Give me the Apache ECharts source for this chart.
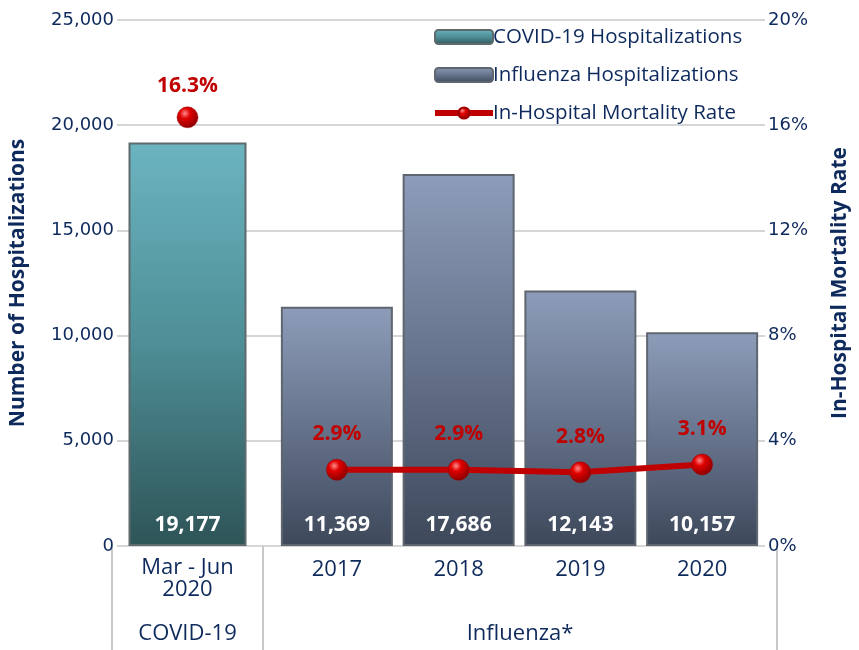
<!DOCTYPE html>
<html><head><meta charset="utf-8">
<script src="https://cdn.jsdelivr.net/npm/echarts@6/dist/echarts.min.js"></script>
<style>html,body{margin:0;padding:0;background:#fff}#c{width:859px;height:650px}</style>
</head><body><div id="c"></div>
<script>
// ---- data ----
const covidCategories = ['Mar - Jun\n2020\n\nCOVID-19'];
const covidHosp = [19177];
const covidRate = [16.3];
const fluCategories = ['2017', '2018', '2019', '2020'];
const fluHosp = [11369, 17686, 12143, 10157];
const fluRate = [2.9, 2.9, 2.8, 3.1];
const groupLabel = ['Influenza*'];
const leftTicks = {min: 0, max: 25000, interval: 5000};
const rightTicks = {min: 0, max: 20, interval: 4};

const NAVY = '#0E2A5C';
const GRID = '#C8C8C8';
const NARROW = '"Liberation Sans Narrow", "Open Sans", sans-serif';
const RED = '#C00000';

const chart = echarts.init(document.getElementById('c'));
const sphere = {
  type: 'radial', x: 0.38, y: 0.32, r: 0.7,
  colorStops: [{offset: 0, color: '#FF8A8A'}, {offset: 0.35, color: '#E00000'}, {offset: 1, color: '#8A0000'}]
};
const covidGrad = {type: 'linear', x: 0, y: 0, x2: 0, y2: 1,
  colorStops: [{offset: 0, color: '#6BB4C0'}, {offset: 0.5, color: '#4E8E96'}, {offset: 1, color: '#2E5457'}]};
const fluGrad = {type: 'linear', x: 0, y: 0, x2: 0, y2: 1,
  colorStops: [{offset: 0, color: '#8D9CB9'}, {offset: 0.5, color: '#66738C'}, {offset: 1, color: '#3D485A'}]};

const tickStyle = {show: true, length: 5, lineStyle: {color: GRID, width: 1.5}};
const hiddenX = (gi, data) => ({type: 'category', gridIndex: gi, data: data, show: false});

chart.setOption({
  animation: false,
  grid: [
    {left: 112, right: 82, top: 20, bottom: 104},
    {left: 112, width: 151, top: 20, bottom: 104},
    {left: 276, right: 96, top: 20, bottom: 104},
    {left: 263, right: 82, top: 20, bottom: 104}
  ],
  legend: {
    orient: 'vertical', left: 432, top: 25, padding: 0, itemWidth: 58, itemHeight: 14, itemGap: 14,
    textStyle: {color: NAVY, fontFamily: '"Open Sans", sans-serif', fontSize: 20.5, lineHeight: 24, padding: [0, 0, 0, -5]},
    lineStyle: {width: 6},
    data: ['COVID-19 Hospitalizations', 'Influenza Hospitalizations', 'In-Hospital Mortality Rate']
  },
  xAxis: [
    hiddenX(0, ['']),
    {type: 'category', gridIndex: 1, data: covidCategories,
      axisLine: {show: false}, axisTick: {show: true, length: 104, lineStyle: {color: GRID, width: 2}},
      axisLabel: {color: NAVY, fontFamily: NARROW, fontSize: 22, lineHeight: 22, margin: 11}},
    {type: 'category', gridIndex: 2, data: fluCategories,
      axisLine: {show: false}, axisTick: {show: false},
      axisLabel: {color: NAVY, fontFamily: NARROW, fontSize: 22, lineHeight: 22, margin: 13}},
    {type: 'category', gridIndex: 3, data: groupLabel,
      axisLine: {show: false}, axisTick: {show: true, length: 104, lineStyle: {color: GRID, width: 2}},
      axisLabel: {color: NAVY, fontFamily: NARROW, fontSize: 22, margin: 77}}
  ],
  yAxis: [
    {type: 'value', gridIndex: 0, position: 'left', ...leftTicks,
      name: 'Number of Hospitalizations', nameLocation: 'middle', nameRotate: 90, nameGap: 93,
      nameTextStyle: {color: NAVY, fontFamily: NARROW, fontWeight: 'bold', fontSize: 21},
      axisLine: {show: false}, axisTick: tickStyle,
      axisLabel: {color: NAVY, fontFamily: '"DejaVu Sans", sans-serif', fontSize: 18, margin: 8,
        formatter: v => v.toLocaleString('en-US')},
      splitLine: {show: true, lineStyle: {color: GRID, width: 1.5}}},
    {type: 'value', gridIndex: 0, position: 'right', ...rightTicks,
      name: 'In-Hospital Mortality Rate', nameLocation: 'middle', nameRotate: 90, nameGap: 70,
      nameTextStyle: {color: NAVY, fontFamily: NARROW, fontWeight: 'bold', fontSize: 21},
      axisLine: {show: false}, axisTick: tickStyle,
      axisLabel: {color: NAVY, fontFamily: '"DejaVu Sans", sans-serif', fontSize: 18, margin: 8, formatter: '{value}%'},
      splitLine: {show: false}},
    {type: 'value', gridIndex: 1, ...leftTicks, show: false},
    {type: 'value', gridIndex: 1, ...rightTicks, show: false},
    {type: 'value', gridIndex: 2, ...leftTicks, show: false},
    {type: 'value', gridIndex: 2, ...rightTicks, show: false},
    {type: 'value', gridIndex: 3, ...leftTicks, show: false}
  ],
  series: [
    {name: 'COVID-19 Hospitalizations', type: 'bar', xAxisIndex: 1, yAxisIndex: 2, data: covidHosp,
      barWidth: 118,
      itemStyle: {color: covidGrad, borderColor: '#5E6A6C', borderWidth: 2},
      label: {show: true, position: 'insideBottom', distance: 10, color: '#fff',
        fontFamily: '"Open Sans", sans-serif', fontWeight: 'bold', fontSize: 21,
        formatter: p => p.value.toLocaleString('en-US')}},
    {name: 'Influenza Hospitalizations', type: 'bar', xAxisIndex: 2, yAxisIndex: 4, data: fluHosp,
      barWidth: 112,
      itemStyle: {color: fluGrad, borderColor: '#5F6670', borderWidth: 2},
      label: {show: true, position: 'insideBottom', distance: 10, color: '#fff',
        fontFamily: '"Open Sans", sans-serif', fontWeight: 'bold', fontSize: 21,
        formatter: p => p.value.toLocaleString('en-US')}},
    {name: 'In-Hospital Mortality Rate', type: 'line', xAxisIndex: 1, yAxisIndex: 3, data: covidRate,
      symbol: 'circle', symbolSize: 21, z: 5,
      lineStyle: {color: RED, width: 6},
      itemStyle: {color: sphere, borderColor: '#9A0000', borderWidth: 0.5},
      label: {show: true, position: 'top', distance: 10, color: RED,
        fontFamily: '"Open Sans", sans-serif', fontWeight: 'bold', fontSize: 21, formatter: '{c}%'}},
    {name: 'In-Hospital Mortality Rate', type: 'line', xAxisIndex: 2, yAxisIndex: 5, data: fluRate,
      symbol: 'circle', symbolSize: 21, z: 5,
      lineStyle: {color: RED, width: 6},
      itemStyle: {color: sphere, borderColor: '#9A0000', borderWidth: 0.5},
      label: {show: true, position: 'top', distance: 14, color: RED,
        fontFamily: '"Open Sans", sans-serif', fontWeight: 'bold', fontSize: 21, formatter: '{c}%'}}
  ]
});
</script></body></html>
